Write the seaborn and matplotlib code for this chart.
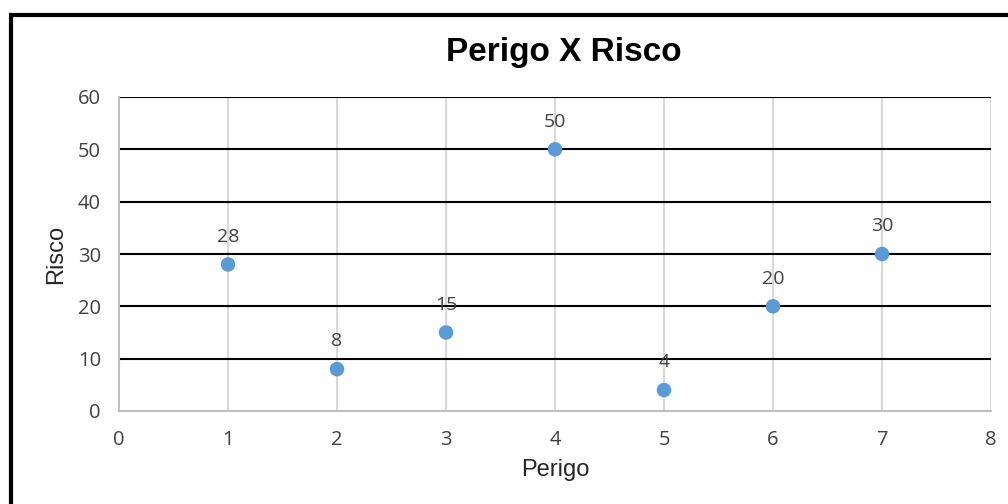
import matplotlib
matplotlib.use('Agg')
import matplotlib.pyplot as plt
import seaborn as sns
import pandas as pd
from matplotlib.patches import Rectangle

#------------------------------------------
perigo=[1, 2, 3, 4, 5, 6, 7]
risco=[28, 8, 15, 50, 4, 20, 30]
x_ticks=[0, 1, 2, 3, 4, 5, 6, 7, 8]
y_ticks=[0, 10, 20, 30, 40, 50, 60]

title='Perigo X Risco'
xlabel='Perigo'
ylabel='Risco'

#####################################################
df=pd.DataFrame({'Perigo': perigo, 'Risco': risco})

sns.set_style('white')
plt.rcParams['font.family']=['Open Sans', 'DejaVu Sans']

fig=plt.figure(figsize=(10.08, 5.04), dpi=100)
ax=fig.add_axes([119/1008, 93/504, 872/1008, 314/504])

#gridlines
for y in y_ticks[1:]:
    ax.axhline(y, color='black', lw=1.5, zorder=1)
for x in x_ticks[1:]:
    ax.axvline(x, color='#d9d9d9', lw=1.5, zorder=0)

#points
sns.scatterplot(data=df, x='Perigo', y='Risco', ax=ax, s=110, color='#5b9bd5',
                edgecolor='none', zorder=3)

#data labels
for px, py in zip(perigo, risco):
    ax.annotate(f'{py}', (px, py), xytext=(0, 20), textcoords='offset points',
                ha='center', va='center', fontsize=14, color='#404040')

#adjust
ax.set_xlim(0, 8)
ax.set_ylim(0, 60)
ax.set_xticks(x_ticks)
ax.set_yticks(y_ticks)
ax.tick_params(axis='both', length=0, labelsize=14.5, labelcolor='#404040')
ax.tick_params(axis='y', pad=13)
ax.tick_params(axis='x', pad=14)
for s in ['top', 'right']:
    ax.spines[s].set_visible(False)
for s in ['left', 'bottom']:
    ax.spines[s].set_color('#bfbfbf')
    ax.spines[s].set_linewidth(1.5)

ax.set_xlabel(xlabel, fontsize=17, family='Liberation Sans', color='#262626')
ax.set_ylabel(ylabel, fontsize=17, family='Liberation Sans', color='#262626')
ax.xaxis.set_label_coords(0.5, -0.153)
ax.yaxis.set_label_coords(-0.060, 0.5)

fig.text(564/1008, 1-53/504, title, ha='center', va='center', fontsize=24,
         weight='bold', family='Liberation Sans', color='black')

#outer frame
fig.patches.append(Rectangle((10.5/1008, -0.2), 2, 1-14.7/504+0.2,
                             transform=fig.transFigure, fill=False,
                             edgecolor='black', lw=3))

#save
fig.savefig('out.png', dpi=100)
plt.close()
